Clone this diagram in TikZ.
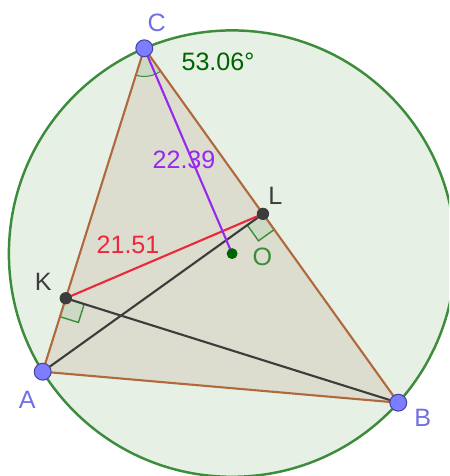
\documentclass[tikz,border=0pt]{standalone}
\usepackage{fontspec}
\setmainfont{Liberation Sans}
\usetikzlibrary{calc, angles, positioning}
\definecolor{circfill}{RGB}{231,240,229}
\definecolor{circedge}{RGB}{60,140,60}
\definecolor{trifill}{RGB}{220,221,206}
\definecolor{triedge}{RGB}{175,105,60}
\definecolor{ptblue}{RGB}{125,125,255}
\definecolor{ptedge}{RGB}{70,70,160}
\definecolor{ptgray}{RGB}{60,60,60}
\definecolor{ogreen}{RGB}{0,100,0}
\definecolor{segpurple}{RGB}{150,40,240}
\definecolor{segred}{RGB}{235,40,60}
\definecolor{markfill}{RGB}{205,218,195}

\begin{document}
\begin{tikzpicture}[
  x=0.02cm, y=-0.02cm,
  bigpt/.style={circle, draw=ptedge, fill=ptblue, line width=0.6pt, inner sep=0pt, minimum size=9.6pt},
  smallpt/.style={circle, fill=ptgray, inner sep=0pt, minimum size=7pt},
  lbl/.style={font=\fontsize{14.3}{16}\selectfont, inner sep=0pt},
  side/.style={draw=triedge, line width=1.2pt},
  seg/.style={line width=1.2pt},
  rmark/.style={draw=circedge, fill=markfill, line width=0.8pt}
]
  \useasboundingbox (0,0) rectangle (449,476);
  \clip (0,0) rectangle (449,476);

  % main points
  \coordinate (A) at (42.7,371.7);
  \coordinate (B) at (398.3,402.7);
  \coordinate (C) at (144.3,48.3);
  \coordinate (O) at (232.1,253.6);
  \coordinate (K) at ($(A)!(B)!(C)$);
  \coordinate (L) at ($(B)!(A)!(C)$);

  % circumcircle and triangle
  \draw[draw=circedge, fill=circfill, line width=1.4pt] (O) circle [radius=223.2];
  \fill[trifill] (A) -- (B) -- (C) -- cycle;

  % angle and right angle marks
  \pic[draw=circedge, fill=markfill, line width=0.6pt, angle radius=16pt] {angle=A--C--B};
  \coordinate (ka) at ($(K)!11pt!(A)$);
  \coordinate (kb) at ($(K)!11pt!(B)$);
  \draw[rmark] (K) -- (ka) -- ($(ka)+(kb)-(K)$) -- (kb) -- cycle;
  \coordinate (la) at ($(L)!11pt!(A)$);
  \coordinate (lb) at ($(L)!11pt!(B)$);
  \draw[rmark] (L) -- (la) -- ($(la)+(lb)-(L)$) -- (lb) -- cycle;

  % altitudes and segments
  \draw[seg, ptgray] (A) -- (L);
  \draw[seg, ptgray] (B) -- (K);
  \draw[seg, segred] (K) -- (L);
  \draw[seg, segpurple] (C) -- (O);
  \draw[side] (A) -- (B) -- (C) -- cycle;

  % dots
  \node[circle, fill=ogreen, inner sep=0pt, minimum size=6.2pt] (dotO) at (O) {};
  \node[smallpt] (dotK) at (K) {};
  \node[smallpt] (dotL) at (L) {};
  \node[bigpt] (dotA) at (A) {};
  \node[bigpt] (dotB) at (B) {};
  \node[bigpt] (dotC) at (C) {};

  % labels
  \node[lbl, text=ptblue!90!black] (labA) at (27.3,400) {A};
  \node[lbl, text=ptblue!90!black] (labB) at (422.7,418.3) {B};
  \node[lbl, text=ptblue!90!black] (labC) at (156.7,23.3) {C};
  \node[lbl, text=ptgray] (labK) at (43.3,281.7) {K};
  \node[lbl, text=ptgray] (labL) at (275.3,196) {L};
  \node[lbl, text=circedge] (labO) at (262.3,256.7) {O};
  \node[lbl, text=ogreen] (angC) at (218,61.5) {53.06°};
  \node[lbl, text=segpurple] (lenCO) at (184,160) {22.39};
  \node[lbl, text=segred] (lenKL) at (128,244.5) {21.51};
\end{tikzpicture}
\end{document}
